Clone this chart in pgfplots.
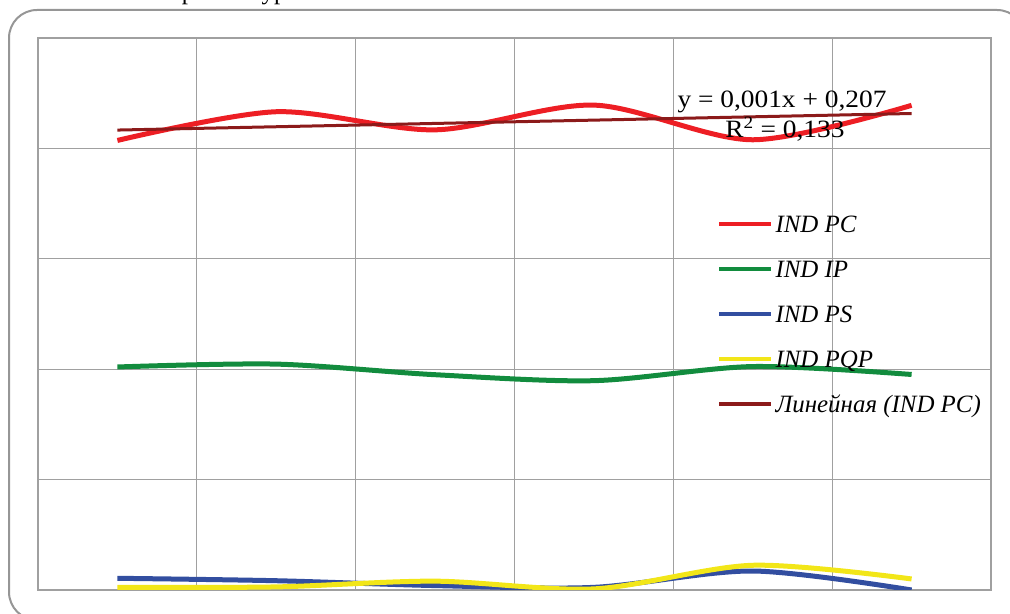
\documentclass[border=0pt]{standalone}
\usepackage{pgfplots}
\pgfplotsset{compat=1.18}
\usepackage{fontspec}
\setmainfont{Liberation Serif}
\newfontfamily\eqfont[FakeStretch=1.1]{Liberation Serif}
\definecolor{cred}{RGB}{237,30,36}
\definecolor{cgreen}{RGB}{18,140,62}
\definecolor{cblue}{RGB}{50,78,160}
\definecolor{cyellow}{RGB}{242,230,24}
\definecolor{ctrend}{RGB}{140,26,26}
\definecolor{cgrid}{RGB}{160,160,160}
\definecolor{cframe}{RGB}{150,150,150}
\begin{document}
\begin{tikzpicture}[x=1bp,y=1bp]
\useasboundingbox (0,0) rectangle (1010,614);
\draw[color=cframe, line width=2bp, rounded corners=28bp] (9,604) rectangle (1025,-6);
\node[anchor=base, font=\fontsize{25}{30}\selectfont, inner sep=0pt] at (188,614.5) {р};
\node[anchor=base, font=\fontsize{25}{30}\selectfont, inner sep=0pt] at (274,614.5) {ур};
\begin{axis}[
  at={(38bp,24bp)}, anchor=south west,
  scale only axis, width=953bp, height=552bp,
  xmin=0.5, xmax=6.5, ymin=0, ymax=0.25,
  xtick={0.5,1.5,...,6.5}, ytick={0,0.05,...,0.25},
  xticklabels={}, yticklabels={},
  major tick length=0pt,
  grid=major,
  grid style={color=cgrid, line width=1bp},
  axis line style={color=cgrid, line width=1.6bp},
  legend style={at={(0.7125,0.6866)}, anchor=north west, draw=none, fill=none,
    inner sep=0pt, outer sep=0pt,
    font=\itshape\fontsize{25}{30}\selectfont, row sep=19bp,
    nodes={inner xsep=2bp, inner ysep=0pt, text height=22bp, text depth=4bp}},
  legend cell align=left,
  legend image code/.code={\draw[#1, line width=4.5bp] (0bp,0bp) -- (52bp,0bp);},
]
\addplot[cred, line width=5bp, smooth] coordinates {(1,0.2036) (2,0.2166) (3,0.2084) (4,0.2196) (5,0.2039) (6,0.2195)};
\addlegendentry{IND PC}
\addplot[cgreen, line width=5bp, smooth] coordinates {(1,0.1010) (2,0.1023) (3,0.0975) (4,0.0948) (5,0.1012) (6,0.0976)};
\addlegendentry{IND IP}
\addplot[cblue, line width=5bp, smooth] coordinates {(1,0.0053) (2,0.0042) (3,0.0020) (4,0.0012) (5,0.0086) (6,0.0000)};
\addlegendentry{IND PS}
\addplot[cyellow, line width=5bp, smooth] coordinates {(1,0.0012) (2,0.0014) (3,0.0040) (4,0.0005) (5,0.0112) (6,0.0050)};
\addlegendentry{IND PQP}
\addplot[ctrend, line width=3bp] coordinates {(1,0.2083) (6,0.2158)};
\addlegendentry{Линейная (IND PC)}
\end{axis}
\node[font=\eqfont\fontsize{25}{30}\selectfont, inner sep=0pt, anchor=base] at (782,506) {y = 0,001x + 0,207};
\node[font=\eqfont\fontsize{25}{30}\selectfont, inner sep=0pt, anchor=base] at (785,476) {R\textsuperscript{2} = 0,133};
\end{tikzpicture}
\end{document}
